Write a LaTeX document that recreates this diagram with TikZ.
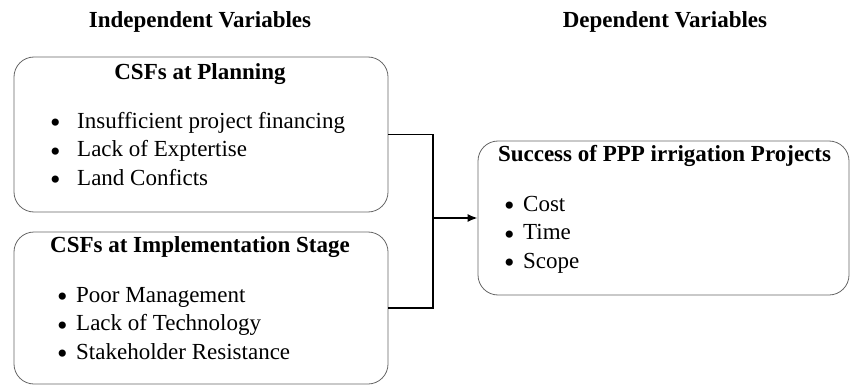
\documentclass[tikz,border=0pt]{standalone}
\usepackage{fontspec}
\setmainfont{Liberation Serif}
\usetikzlibrary{positioning}
\usetikzlibrary{arrows.meta}
\tikzset{
	block/.style={
		rectangle,
		draw=black!60,
		line width=0.8pt,
		rounded corners=20pt,
		inner sep=0pt
	},
	heading/.style={font=\fontsize{23}{28}\selectfont\bfseries, anchor=base, inner sep=0pt},
	items/.style={font=\fontsize{23}{28.5}\selectfont, align=left, anchor=base west, inner sep=0pt},
	link/.style={line width=1.6pt}
}
\newcommand{\itm}[1][19pt]{\makebox[#1][l]{\raisebox{-4.5pt}{\scalebox{1.3}{\textbullet}}}}

\begin{document}
\begin{tikzpicture}[x=1pt, y=-1pt]
			\useasboundingbox (0,0) rectangle (851,385);
			\node[heading](IndHead) at (200,28){Independent Variables};
			\node[heading](DepHead) at (665,28){Dependent Variables};
			
			\node[block, minimum width=374pt, minimum height=155pt](Planning) at (201,134.5){};
			\node[block, minimum width=374pt, minimum height=152pt](Implementation) at (201,308){};
			\node[block, minimum width=371pt, minimum height=154pt](Success) at (663.5,218){};
			
			% lists are anchored on the baseline of their last line
			\node[heading](PlanTitle) at (200,80){CSFs at Planning};
			\node[items](PlanList) at (50,185){\itm[27pt]Insufficient project financing\\ \itm[27pt]Lack of Exptertise\\ \itm[27pt]Land Conficts};
			
			\node[heading](ImplTitle) at (200,252){CSFs at Implementation Stage};
			\node[items](ImplList) at (57,359){\itm Poor Management\\ \itm Lack of Technology\\ \itm Stakeholder Resistance};
			
			\node[heading](SuccTitle) at (664.5,161){Success of PPP irrigation Projects};
			\node[items](SuccList) at (504,268){\itm Cost\\ \itm Time\\ \itm Scope};
			
			\coordinate (Join) at (433,218);
			\draw[link] (Planning.east) -| (Join) |- (Implementation.east);
			\draw[link, -{Latex[length=10pt, width=8pt]}] (Join) -- (Success.west);
		\end{tikzpicture}
\end{document}
